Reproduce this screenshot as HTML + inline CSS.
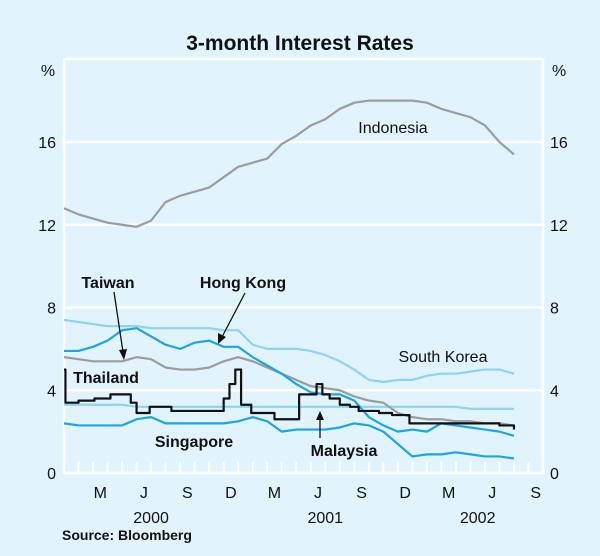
<!DOCTYPE html>
<html><head><meta charset="utf-8"><style>
body{margin:0;background:#e1f3fc;}
svg{display:block;font-family:"Liberation Sans",Arial,sans-serif;}
</style></head><body>
<svg id="chart" width="600" height="556" viewBox="0 0 600 556">
<rect x="0" y="0" width="600" height="556" fill="#e1f3fc"/>
<text x="300" y="50" text-anchor="middle" font-size="21" font-weight="bold" fill="#111">3-month Interest Rates</text>
<g id="grid"></g>
<g id="series"></g>
<g id="axes"></g>
<g id="labels">
<text x="393" y="133" text-anchor="middle" font-size="16" fill="#111">Indonesia</text>
<text x="443" y="362" text-anchor="middle" font-size="16" fill="#111">South Korea</text>
<text x="108" y="288" text-anchor="middle" font-size="16" font-weight="bold" fill="#111">Taiwan</text>
<text x="243" y="288" text-anchor="middle" font-size="16" font-weight="bold" fill="#111">Hong Kong</text>
<text x="106" y="383" text-anchor="middle" font-size="16" font-weight="bold" fill="#111">Thailand</text>
<text x="194" y="447" text-anchor="middle" font-size="16" font-weight="bold" fill="#111">Singapore</text>
<text x="344" y="456" text-anchor="middle" font-size="16" font-weight="bold" fill="#111">Malaysia</text>
<line x1="114" y1="292" x2="123" y2="352" stroke="#111" stroke-width="1.3"/>
<polygon points="124,360 119,350 127,349" fill="#111"/>
<line x1="245" y1="293" x2="222" y2="337" stroke="#111" stroke-width="1.3"/>
<polygon points="218,344 218,333 226,337" fill="#111"/>
<line x1="320" y1="438" x2="320" y2="418" stroke="#111" stroke-width="1.3"/>
<polygon points="320,411 316,420 324,420" fill="#111"/>
</g>
<text x="62" y="540" font-size="14" font-weight="bold" fill="#111">Source: Bloomberg</text>
</svg>
<script>
const months = [0,1,2,3,4,5,6,7,8,9,10,11,12,13,14,15,16,17,18,19,20,21,22,23,24,25,26,27,28,29,30,31];
const indonesia = [12.8,12.5,12.3,12.1,12.0,11.9,12.2,13.1,13.4,13.6,13.8,14.3,14.8,15.0,15.2,15.9,16.3,16.8,17.1,17.6,17.9,18.0,18.0,18.0,18.0,17.9,17.6,17.4,17.2,16.8,16.0,15.4];
const southKorea = [7.4,7.3,7.2,7.1,7.1,7.1,7.0,7.0,7.0,7.0,7.0,6.9,6.9,6.2,6.0,6.0,6.0,5.9,5.7,5.4,5.0,4.5,4.4,4.5,4.5,4.7,4.8,4.8,4.9,5.0,5.0,4.8];
const hongKong = [5.9,5.9,6.1,6.4,6.9,7.0,6.6,6.2,6.0,6.3,6.4,6.1,6.1,5.6,5.2,4.8,4.3,3.9,3.8,3.8,3.5,2.7,2.3,2.0,2.1,2.0,2.4,2.3,2.2,2.1,2.0,1.8];
const taiwan = [5.6,5.5,5.4,5.4,5.4,5.6,5.5,5.1,5.0,5.0,5.1,5.4,5.6,5.4,5.1,4.8,4.5,4.2,4.1,4.0,3.7,3.5,3.4,2.9,2.7,2.6,2.6,2.5,2.5,2.4,2.4,2.3];
const malaysia = [3.3,3.3,3.3,3.3,3.3,3.2,3.2,3.2,3.2,3.2,3.2,3.2,3.2,3.2,3.2,3.2,3.2,3.2,3.2,3.2,3.2,3.2,3.2,3.2,3.2,3.2,3.2,3.2,3.1,3.1,3.1,3.1];
const singapore = [2.4,2.3,2.3,2.3,2.3,2.6,2.7,2.4,2.4,2.4,2.4,2.4,2.5,2.7,2.5,2.0,2.1,2.1,2.1,2.2,2.4,2.3,2.0,1.4,0.8,0.9,0.9,1.0,0.9,0.8,0.8,0.7];
const thailandMonths = [0,0.1,1,2.1,3.2,4.6,5.0,5.9,7.4,11.0,11.4,11.8,12.2,12.9,14.5,16.2,17.4,17.8,18.3,19.0,19.7,20.3,21.7,22.6,23.8,30.0,31.0];
const thailand = [5.0,3.4,3.5,3.6,3.8,3.4,2.9,3.2,3.0,3.6,4.3,5.0,3.3,2.9,2.6,3.8,4.3,3.8,3.6,3.3,3.2,3.0,2.9,2.8,2.4,2.3,2.1];
const yTicks = [0,4,8,12,16];
const monthLabels = ["M","J","S","D","M","J","S","D","M","J","S"];
const monthLabelPos = [2.5,5.5,8.5,11.5,14.5,17.5,20.5,23.5,26.5,29.5,32.5];
const yearLabels = ["2000","2001","2002"];
const yearLabelPos = [6,18,28.5];

const X0=64, X1=543, Y0=473, YTOP=59, NM=33;
const xS = m => X0 + m*(X1-X0)/NM;
const yS = v => Y0 - v*(Y0-142)/16;
const NS="http://www.w3.org/2000/svg";
const mk=(t,a,p)=>{const e=document.createElementNS(NS,t);for(const k in a)e.setAttribute(k,a[k]);p.appendChild(e);return e;};
const grid=document.getElementById('grid'), axes=document.getElementById('axes'), ser=document.getElementById('series');

// frame
let fr=mk('rect',{x:X0,y:YTOP,width:X1-X0,height:Y0-YTOP,fill:'none',stroke:'#fff','stroke-width':2.5},grid);


yTicks.forEach(v=>{
  const l=mk('line',{x1:X0,x2:X1,y1:yS(v),y2:yS(v),stroke:'#fff','stroke-width':2.5},grid);
  
  
  const a=mk('text',{x:56,y:yS(v)+6,'text-anchor':'end','font-size':16,fill:'#111'},axes);a.textContent=v;
  
  
  const b=mk('text',{x:550,y:yS(v)+6,'font-size':16,fill:'#111'},axes);b.textContent=v;
  
  
});
[[48,'left'],[552,'right']].forEach(([x,s])=>{
  const p=mk('text',{x:x,y:76,'text-anchor':s=='left'?'middle':'start','font-size':16,fill:'#111'},axes);p.textContent='%';
  
  
});
for(let m=1;m<NM;m++){
  const t=mk('line',{x1:xS(m),x2:xS(m),y1:Y0,y2:Y0-11,stroke:'#fff','stroke-width':2},grid);
  
  
}
monthLabels.forEach((s,i)=>{
  const t=mk('text',{x:xS(monthLabelPos[i]),y:498,'text-anchor':'middle','font-size':16,fill:'#111'},axes);t.textContent=s;
  
  
});
yearLabels.forEach((s,i)=>{
  const t=mk('text',{x:xS(yearLabelPos[i]),y:523,'text-anchor':'middle','font-size':16,fill:'#111'},axes);t.textContent=s;
  
  
});

function line(xs,vals,color,name,step){
  let d='';
  vals.forEach((v,i)=>{
    const x=xS(xs[i]),y=yS(v);
    if(i==0)d+='M'+x+','+y;
    else if(step)d+='H'+x+'V'+y;
    else d+='L'+x+','+y;
  });
  const p=mk('path',{d:d,fill:'none',stroke:color,'stroke-width':2.2,'stroke-linejoin':'round'},ser);
  
  
}
line(months,indonesia,'#9a9c9e','line-indonesia');
line(months,southKorea,'#8dd3f4','line-south-korea');
line(months,malaysia,'#8dd3f4','line-malaysia');
line(months,taiwan,'#9a9c9e','line-taiwan');
line(months,hongKong,'#1aa5e6','line-hong-kong');
line(months,singapore,'#1aa5e6','line-singapore');
line(thailandMonths,thailand,'#111','line-thailand',true);
</script>
</body></html>
